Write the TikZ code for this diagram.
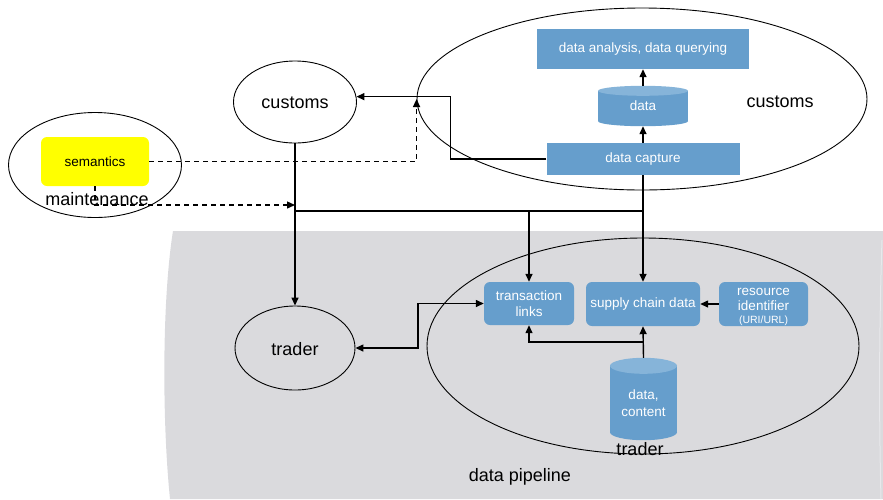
\documentclass[tikz,border=0pt]{standalone}
\usepackage{fontspec}
\setmainfont{Liberation Sans}
\usetikzlibrary{shapes.geometric,arrows.meta,calc}
\pgfdeclarelayer{back}
\pgfdeclarelayer{bg}
\pgfsetlayers{back,bg,main}
\definecolor{boxblue}{RGB}{102,158,204}
\definecolor{capblue}{RGB}{134,180,217}
\definecolor{pipegray}{RGB}{218,218,221}
\definecolor{pipeedge}{RGB}{232,232,235}
\definecolor{semyellow}{RGB}{255,255,0}

\begin{document}
\begin{tikzpicture}[x=1pt,y=-1pt,
  bluebox/.style={fill=boxblue, text=white, font=\fontsize{13.5}{16.5}\selectfont,
    inner sep=0pt, align=center},
  roundbox/.style={bluebox, rounded corners=6pt},
  cylbox/.style={text=white, font=\fontsize{13.5}{17}\selectfont, inner sep=0pt, align=center},
  oval/.style={ellipse, draw, line width=0.9pt, inner sep=0pt},
  bigtext/.style={font=\fontsize{18}{20}\selectfont, inner sep=0pt},
  tip/.style={-{Triangle[length=8pt,width=7pt]}},
  conn/.style={line width=1.4pt, tip},
  dashconn/.style={line width=1.4pt, dash pattern=on 5pt off 4pt, tip},
  trunk/.style={line width=2.2pt}]

\useasboundingbox (0,0) rectangle (883,499);

% data pipeline backdrop
\begin{pgfonlayer}{back}
  \fill[pipegray] (173,231) -- (883,231) -- (883,499) -- (170,499)
    .. controls (162,420) and (162,300) .. (173,231) -- cycle;
  \draw[pipeedge, line width=1pt] (882,240) .. controls (879,330) and (879,420) .. (881,499);
\end{pgfonlayer}

% customs side
\node[oval, minimum width=450, minimum height=182] (cbig) at (642,99) {};
\node[bigtext] at (780,102) {customs};
\node[bluebox, minimum width=212, minimum height=40] (ana) at (643,49) {data analysis, data querying};
\node[cylbox, minimum width=90, minimum height=40] (dat) at (643,106) {data};
\node[bluebox, minimum width=193, minimum height=32] (dc) at (643,159) {data capture};
\node[oval, minimum width=123, minimum height=82] (cs) at (295,102) {};
\node[bigtext] at (295,103) {customs};

% maintenance
\node[oval, minimum width=173, minimum height=105] (mt) at (95,165) {};
\node[fill=semyellow, rounded corners=6pt, minimum width=108, minimum height=49, inner sep=0pt,
  font=\fontsize{13.5}{15.5}\selectfont] (sem) at (95,161.5) {semantics};

% trader side
\node[oval, minimum width=120, minimum height=84] (tr) at (295,348) {};
\node[bigtext] at (295,349) {trader};
\node[oval, minimum width=432, minimum height=216] (tbig) at (643,346) {};
\node[roundbox, minimum width=90, minimum height=43] (tl) at (529,303.5) {transaction\\links};
\node[roundbox, minimum width=114, minimum height=44] (scd) at (643,304) {supply chain data};
\node[roundbox, minimum width=89, minimum height=44] (ri) at (763.5,304) {};
\node[cylbox, font=\fontsize{13.5}{15}\selectfont] at (763.5,306.5)
  {resource\\identifier\\[-2pt]{\fontsize{10.5}{12}\selectfont (URI/URL)}};
\node[cylbox, minimum width=67, minimum height=82] (dcc) at (643.5,399) {};
\node[cylbox] at (643.5,403) {data,\\content};
\node[bigtext] at (640,449) {trader};
\node[bigtext] at (520,477) {data pipeline};
\node[bigtext] at (97,199) {maintenance};

% database cylinders
\begin{pgfonlayer}{bg}
  \fill[boxblue] ($(dat.north west)+(0,5)$) rectangle ($(dat.south east)+(0,-5)$);
  \fill[boxblue] ($(dat.south)+(0,-5)$) ellipse [x radius=45pt, y radius=5pt];
  \fill[capblue] ($(dat.north)+(0,5)$) ellipse [x radius=45pt, y radius=5pt];
  \fill[boxblue] ($(dcc.north west)+(0,8)$) rectangle ($(dcc.south east)+(0,-8)$);
  \fill[boxblue] ($(dcc.south)+(0,-8)$) ellipse [x radius=33.5pt, y radius=8pt];
  \fill[capblue] ($(dcc.north)+(0,8)$) ellipse [x radius=33.5pt, y radius=8pt];
\end{pgfonlayer}

% connectors
\coordinate (trunkY) at (0,211);
\coordinate (maintY) at (0,205);
\coordinate (branch) at (643,342);
\draw[conn] (dc.north) -- (dat.south);
\draw[conn] (dat.north) -- (ana.south);
\draw[conn] (dc.west) -- ++(-96,0) |- (cs.5);
\draw[dashconn] (sem.east) -| (cbig.west);
\draw[dashconn] (sem.south) |- (cs.south |- maintY);
\draw[conn] (cs.south) -- (tr.north);
\draw[trunk] (cs.south |- trunkY) -- (dc.south |- trunkY);
\draw[conn] (dc.south) -- (scd.north);
\draw[conn] (tl.north |- trunkY) -- (tl.north);
\draw[line width=1.4pt, {Triangle[length=8pt,width=7pt]}-{Triangle[length=8pt,width=7pt]}]
  (tr.east) -- (418,348) |- (tl.west);
\draw[conn] (ri.west) -- (scd.east);
\draw[conn] (dcc.north) -- (scd.south);
\draw[conn] (branch) -| (tl.south);
\end{tikzpicture}
\end{document}
